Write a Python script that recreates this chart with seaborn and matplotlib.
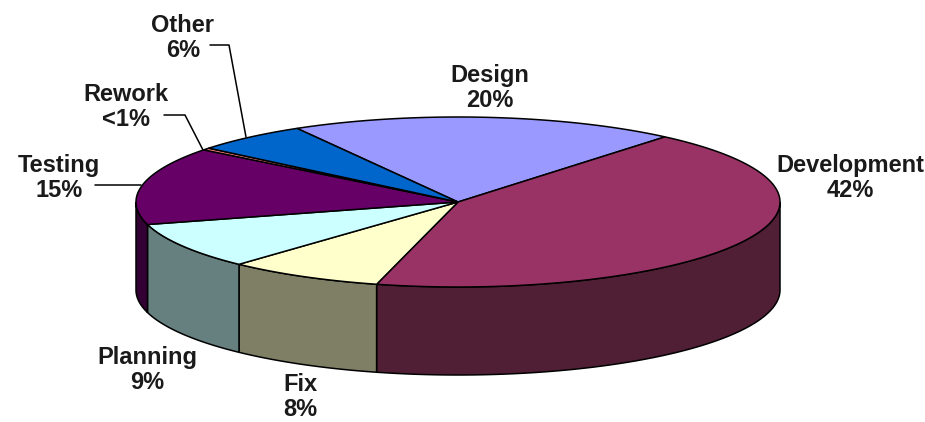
import numpy as np
import matplotlib
matplotlib.use("Agg")
import matplotlib.pyplot as plt
from matplotlib.patches import Polygon
import seaborn as sns

categories = ["Design", "Development", "Fix", "Planning", "Testing", "Rework", "Other"]
values = [19.6, 43.3, 7.9, 8.9, 14.9, 0.4, 5.8]
pct_labels = ["20%", "42%", "8%", "9%", "15%", "<1%", "6%"]
top_colors = ["#9999FF", "#993366", "#FFFFCC", "#CCFFFF", "#660066", "#FF8080", "#0066CC"]
side_colors = ["#4D4D80", "#501F35", "#7F7F66", "#668080", "#330033", "#804040", "#003366"]
label_pos = [(490, 88), (850, 178), (300, 397), (147, 370), (59, 178), (126, 107), (183, 38)]
leaders = {
    "Testing": [(95, 185), (141, 185)],
    "Rework": [(164, 115), (185, 115), (203, 150)],
    "Other": [(210, 45), (229, 45), (246, 137)],
}

sns.set_theme(style="white")
plt.rcParams["font.family"] = ["Liberation Sans", "DejaVu Sans"]

cx, cy, rx, ry, depth = 458, 202, 322, 85, 88
start_angle = 120

fig, ax = plt.subplots(figsize=(9.25, 4.22), dpi=100)
fig.subplots_adjust(0, 0, 1, 1)
ax.set_xlim(0, 925)
ax.set_ylim(422, 0)
ax.axis("off")


def rim(theta_deg, dy=0):
    t = np.radians(theta_deg)
    return np.column_stack([cx + rx * np.cos(t), cy - ry * np.sin(t) + dy])


fractions = np.array(values) / np.sum(values)
sweeps = fractions * 360
ends = start_angle - np.cumsum(sweeps)
starts = ends + sweeps

# sides: only the part of each slice on the front half of the rim
for a0, a1, col in zip(starts, ends, side_colors):
    k0 = np.floor(a1 / 360)
    for base in (k0 * 360, (k0 + 1) * 360):
        lo = max(a1, base - 180)
        hi = min(a0, base)
        if hi - lo > 0:
            th = np.linspace(hi, lo, 80)
            pts = np.vstack([rim(th), rim(th[::-1], depth)])
            ax.add_patch(Polygon(pts, closed=True, fc=col, ec="black", lw=1.1, zorder=2))

# top faces
for a0, a1, col in zip(starts, ends, top_colors):
    th = np.linspace(a0, a1, 120)
    pts = np.vstack([[cx, cy], rim(th)])
    ax.add_patch(Polygon(pts, closed=True, fc=col, ec="black", lw=1.1, zorder=3))

for name, pts in leaders.items():
    xs, ys = zip(*pts)
    ax.plot(xs, ys, color="black", lw=1.1, zorder=4)

for name, pct, (x, y) in zip(categories, pct_labels, label_pos):
    ax.text(x, y, f"{name}\n{pct}", ha="center", va="center", fontsize=17,
            fontweight="bold", color="#1a1a1a", linespacing=1.1, zorder=5)

fig.savefig("out.png", dpi=100, facecolor="white")
